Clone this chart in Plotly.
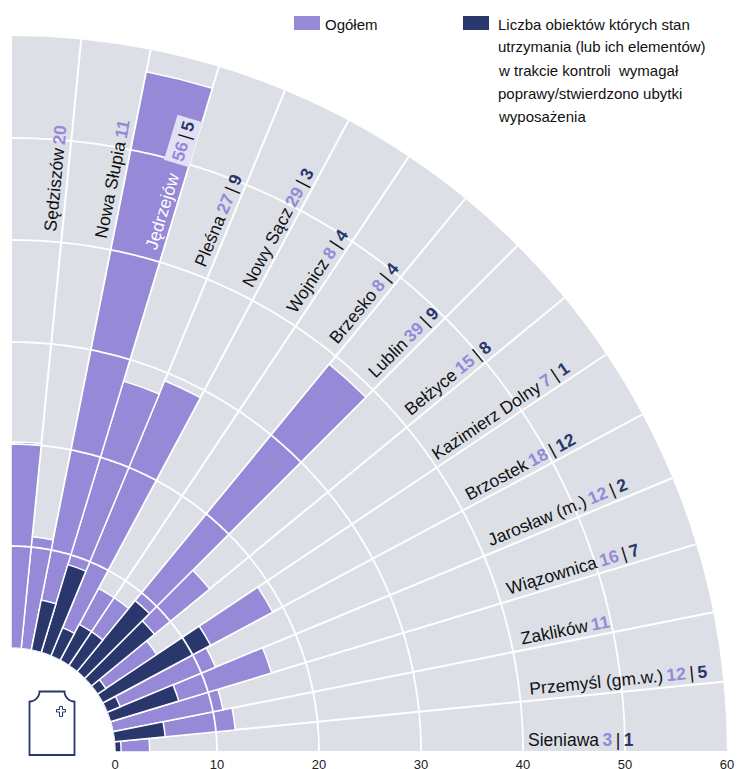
import numpy as np
import plotly.graph_objects as go

W, H = 738, 769
CX, CY = 11, 752      # pixel position of the polar origin
R_IN, R_OUT = 104, 716
STEP = 90 / 16

LIGHT = "#9589d8"
DARK = "#2a376d"
GRAY = "#dcdfe6"

places = ["Sieniawa", "Przemyśl (gm.w.)", "Zaklików", "Wiązownica", "Jarosław (m.)", "Brzostek",
          "Kazimierz Dolny", "Bełżyce", "Lublin", "Brzesko", "Wojnicz", "Nowy Sącz", "Pleśna",
          "Jędrzejów", "Nowa Słupia", "Sędziszów"]
total_labels = [3, 12, 11, 16, 12, 18, 7, 15, 39, 8, 8, 29, 27, 56, 11, 20]
poor_labels = [1, 5, None, 7, 2, 12, 1, 8, 9, 4, 4, 3, 9, 5, None, None]
# bar lengths as read against the radial axis
total_drawn = [3.4, 11.9, 11, 16.5, 11.5, 18.9, 7, 15, 39, 8, 8, 29.2, 27.8, 57.8, 11, 20.2]
poor_drawn = [0.6, 5, 0, 7, 1.4, 12, 1, 8, 9, 4, 4, 3, 9, 5, 0, 0]
radial_ticks = [0, 10, 20, 30, 40, 50, 60]
legend_total = "Ogółem"
legend_poor = ["Liczba obiektów których stan", "utrzymania (lub ich elementów)",
               "w trakcie kontroli  wymagał", "poprawy/stwierdzono ubytki", "wyposażenia"]

FONT = "Liberation Sans"
theta = [(i + 0.5) * STEP for i in range(len(places))]
edges = [i * STEP for i in range(len(places) + 1)]


def px(x, y):
    return x / W, 1 - y / H


def bars(values, color, name):
    return go.Barpolar(r=values, theta=theta, width=[STEP] * len(values), name=name,
                       marker=dict(color=color, line=dict(color="white", width=1.5)),
                       hoverinfo="skip", showlegend=False)


fig = go.Figure()
fig.add_trace(bars(total_drawn, LIGHT, legend_total))
fig.add_trace(bars(poor_drawn, DARK, "Liczba obiektów"))
arc = np.linspace(0, 90, 181)
for t in radial_ticks[1:-1]:
    fig.add_trace(go.Scatterpolar(r=[t] * len(arc), theta=arc, mode="lines",
                                  line=dict(color="white", width=1.8),
                                  hoverinfo="skip", showlegend=False))

annotations = []
shapes = []
LABEL_R = 522
LABEL_SIZE = 17.5
BOX_H = 20
LIFT = 2
START_SHIFT = {"Sieniawa": -5, "Kazimierz Dolny": -6}


def place(text, r, angle, size=LABEL_SIZE, color="#111", box_h=BOX_H, lift=LIFT, pad=0, **extra):
    a = np.deg2rad(angle)
    sx = CX + r * np.cos(a) - lift * np.sin(a)
    sy = CY - r * np.sin(a) - lift * np.cos(a)
    ax = sx - box_h * np.sin(a)
    x, y = px(ax, sy)
    annotations.append(dict(text=text, x=x, y=y, xref="paper", yref="paper", showarrow=False,
                            xanchor="left", yanchor="bottom", textangle=-angle, borderpad=pad,
                            borderwidth=0, font=dict(family=FONT, size=size, color=color), **extra))


def numbers(total, poor):
    s = f'<span style="color:{LIGHT}"><b>{total}</b></span>'
    if poor is not None:
        s += f'\u2009|\u2009<span style="color:{DARK}"><b>{poor}</b></span>'
    return s


for i, name in enumerate(places):
    angle = edges[i]
    r_start = LABEL_R + START_SHIFT.get(name, 0)
    if name == "Jędrzejów":
        place(name, r_start, angle, color="white")
        place(numbers(total_labels[i], poor_labels[i]), 611.5, angle,
              bgcolor="#e3e0f5", box_h=26, lift=0, pad=3)
    else:
        place(name + "\u2009" + numbers(total_labels[i], poor_labels[i]), r_start, angle)

# legend
SWATCH_Y = (16, 30)
for x0, x1, c in [(294, 320, LIGHT), (463, 489, DARK)]:
    a0, b0 = px(x0, SWATCH_Y[0])
    a1, b1 = px(x1, SWATCH_Y[1])
    shapes.append(dict(type="rect", xref="paper", yref="paper", x0=a0, x1=a1, y0=b0, y1=b1,
                       fillcolor=c, line=dict(width=0)))
x, y = px(325, 24)
annotations.append(dict(text=legend_total, x=x, y=y, xref="paper", yref="paper", showarrow=False,
                        borderpad=0, borderwidth=0,
                        xanchor="left", yanchor="middle", font=dict(family=FONT, size=15, color="#111")))
for k, line in enumerate(legend_poor):
    x, y = px(498, 24 + 23 * k)
    annotations.append(dict(text=line, x=x, y=y, xref="paper", yref="paper", showarrow=False,
                            borderpad=0, borderwidth=0,
                            xanchor="left", yanchor="middle", font=dict(family=FONT, size=15, color="#111")))


def path(points):
    return "M" + " L".join(f"{px(a, b)[0]:.5f},{px(a, b)[1]:.5f}" for a, b in points) + " Z"


# grave icon
def corner(cx, cy, a0, a1, r=10):
    return [(cx + r * np.cos(t), cy + r * np.sin(t)) for t in np.deg2rad(np.linspace(a0, a1, 8))]


outline = [(29.5, 755)] + corner(29.5, 691.5, 90, 0) + corner(74.5, 691.5, 180, 90) + [(74.5, 755)]
shapes.append(dict(type="path", xref="paper", yref="paper", path=path(outline),
                   fillcolor="white", line=dict(color=DARK, width=1.8)))
cr = [(59.5, 706.5), (62.5, 706.5), (62.5, 709.5), (65.5, 709.5), (65.5, 712), (62.5, 712),
      (62.5, 716.5), (59.5, 716.5), (59.5, 712), (56.5, 712), (56.5, 709.5), (59.5, 709.5)]
shapes.append(dict(type="path", xref="paper", yref="paper", path=path(cr),
                   fillcolor="white", line=dict(color=DARK, width=1)))

fig.update_layout(
    width=W, height=H, margin=dict(l=0, r=0, t=0, b=0), paper_bgcolor="white",
    showlegend=False, annotations=annotations, shapes=shapes,
    polar=dict(
        barmode="overlay",
        domain=dict(x=[CX / W, (CX + R_OUT) / W], y=[1 - CY / H, 1 - (CY - R_OUT) / H]),
        sector=[0, 90], hole=R_IN / R_OUT, bgcolor=GRAY,
        radialaxis=dict(range=[0, 60], angle=0, side="clockwise", tickvals=radial_ticks,
                        showgrid=False, showline=False, ticks="outside", ticklen=1,
                        tickcolor="rgba(0,0,0,0)", tickangle=0,
                        tickfont=dict(family=FONT, size=13, color="#222")),
        angularaxis=dict(direction="counterclockwise", rotation=0, tickvals=edges, showgrid=True,
                         gridcolor="white", gridwidth=1.5, showline=False, ticks="",
                         showticklabels=False),
    ),
)
fig.write_html("out.html", config={"displayModeBar": False},
               post_script="document.body.style.margin='0';document.body.style.overflow='hidden';")
